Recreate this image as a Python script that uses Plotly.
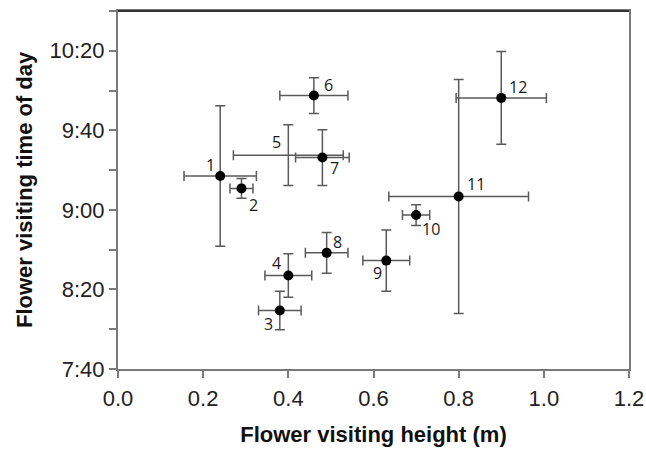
import plotly.graph_objects as go

# Flower visits: mean height (m) and mean time of day (minutes after midnight), with SD
labels = ["1", "2", "3", "4", "5", "6", "7", "8", "9", "10", "11", "12"]
height_m = [0.24, 0.29, 0.38, 0.40, 0.40, 0.46, 0.48, 0.49, 0.63, 0.70, 0.80, 0.90]
height_sd = [0.085, 0.027, 0.050, 0.055, 0.129, 0.080, 0.063, 0.050, 0.055, 0.032, 0.164, 0.106]
time_min = [557.0, 550.8, 489.4, 507.0, 567.5, 597.5, 566.3, 518.4, 514.5, 537.4, 546.7, 596.3]
time_sd = [35.3, 5.0, 9.7, 10.9, 15.3, 9.0, 14.0, 10.2, 15.4, 5.2, 58.8, 23.3]
dot_shown = [True, True, True, True, False, True, True, True, True, True, True, True]

y_tick_vals = [460, 480, 500, 520, 540, 560, 580, 600, 620, 640]
y_tick_text = ["7:40", "", "8:20", "", "9:00", "", "9:40", "", "10:20", ""]
x_tick_vals = [0.0, 0.2, 0.4, 0.6, 0.8, 1.0, 1.2]
x_tick_text = ["0.0", "0.2", "0.4", "0.6", "0.8", "1.0", "1.2"]

# label placement relative to each dot (px)
label_dx = [-10, 12, -11, -12, -12, 15, 12, 11, -9, 15, 17, 17]
label_dy = [-11, 17, 13, -13, -13, -11, 10, -11, 12, 14, -13, -11]

bar_color = "#5a5a5a"
fig = go.Figure()
fig.add_trace(go.Scatter(
    x=height_m, y=time_min, mode="markers",
    marker=dict(size=10, color=["black" if s else "rgba(0,0,0,0)" for s in dot_shown],
                line=dict(width=0)),
    error_x=dict(type="data", array=height_sd, visible=True, color=bar_color,
                 thickness=1.5, width=5),
    error_y=dict(type="data", array=time_sd, visible=True, color=bar_color,
                 thickness=1.5, width=5),
    showlegend=False, hoverinfo="skip",
))

for lab, x, y, dx, dy in zip(labels, height_m, time_min, label_dx, label_dy):
    fig.add_annotation(x=x, y=y, text=lab, showarrow=False,
                       xshift=dx, yshift=-dy,
                       font=dict(family="Open Sans", size=16, color="#1a1a1a"))

# darker top frame edge
fig.add_shape(type="line", xref="paper", yref="paper", x0=0, x1=1, y0=1, y1=1,
              line=dict(color="#333333", width=2))

axis_font = dict(family="Liberation Sans, Arial", size=22, color="#222222")
title_font = dict(family="Liberation Sans, Arial", size=22, color="#111111")

# vertical axis title, placed left of the tick labels
fig.add_annotation(xref="paper", yref="paper", x=0, y=0.5, xshift=-94,
                   text="<b>Flower visiting time of day</b>", textangle=-90,
                   showarrow=False, xanchor="center", yanchor="middle",
                   font=title_font)

fig.update_layout(
    width=646, height=450,
    margin=dict(l=118, r=17, t=11, b=81),
    paper_bgcolor="white", plot_bgcolor="white",
    xaxis=dict(range=[0, 1.2], tickvals=x_tick_vals, ticktext=x_tick_text,
               showgrid=False, zeroline=False, showline=True, mirror=True,
               linecolor="#7a7a7a", linewidth=2, ticks="outside", ticklen=7,
               tickcolor="#7a7a7a", tickwidth=1.5, tickfont=axis_font,
               ticklabelstandoff=2, automargin=False,
               title=dict(text="<b>Flower visiting height (m)</b>", font=title_font,
                          standoff=16)),
    yaxis=dict(range=[460, 640], tickvals=y_tick_vals, ticktext=y_tick_text,
               showgrid=False, zeroline=False, showline=True, mirror=True,
               linecolor="#7a7a7a", linewidth=2, ticks="outside", ticklen=7,
               tickcolor="#7a7a7a", tickwidth=1.5, tickfont=axis_font,
               automargin=False),
)

fig.write_html("out.html")
